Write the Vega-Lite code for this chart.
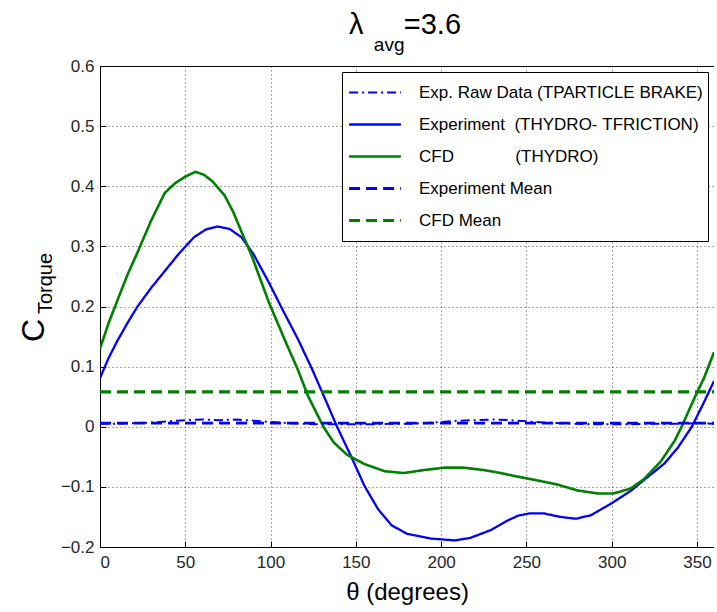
{
  "$schema": "https://vega.github.io/schema/vega-lite/v6.json",
  "width": 614,
  "height": 481,
  "padding": {"left": 17, "top": 11, "right": 0, "bottom": 3},
  "background": "white",
  "config": {
    "font": "Liberation Sans",
    "view": {"stroke": "black", "strokeWidth": 1},
    "axis": {
      "labelFont": "Liberation Sans",
      "titleFont": "Liberation Sans",
      "labelColor": "#262626",
      "titleColor": "black",
      "titleFontWeight": "normal",
      "domainColor": "black",
      "tickColor": "black",
      "gridColor": "#222222",
      "gridDash": [1, 3],
      "gridOpacity": 0.8
    },
    "legend": {"labelFont": "Liberation Sans"}
  },
  "title": {
    "text": "λ\u00a0\u00a0\u00a0\u00a0\u00a0=3.6",
    "subtitle": "avg\u00a0\u00a0\u00a0\u00a0\u00a0\u00a0\u200b",
    "anchor": "middle",
    "font": "Liberation Sans",
    "fontSize": 29,
    "fontWeight": "normal",
    "color": "black",
    "subtitleFont": "Liberation Sans",
    "subtitleFontSize": 19,
    "subtitleColor": "black",
    "subtitlePadding": -4,
    "dx": -2,
    "offset": 2
  },
  "datasets": {
    "curves": [
      {"series": "Exp. Raw Data (TPARTICLE BRAKE)", "theta": 0, "value": 0.005},
      {"series": "Exp. Raw Data (TPARTICLE BRAKE)", "theta": 10, "value": 0.005},
      {"series": "Exp. Raw Data (TPARTICLE BRAKE)", "theta": 20, "value": 0.006},
      {"series": "Exp. Raw Data (TPARTICLE BRAKE)", "theta": 30, "value": 0.007},
      {"series": "Exp. Raw Data (TPARTICLE BRAKE)", "theta": 40, "value": 0.009},
      {"series": "Exp. Raw Data (TPARTICLE BRAKE)", "theta": 50, "value": 0.011},
      {"series": "Exp. Raw Data (TPARTICLE BRAKE)", "theta": 60, "value": 0.012},
      {"series": "Exp. Raw Data (TPARTICLE BRAKE)", "theta": 70, "value": 0.011},
      {"series": "Exp. Raw Data (TPARTICLE BRAKE)", "theta": 80, "value": 0.012},
      {"series": "Exp. Raw Data (TPARTICLE BRAKE)", "theta": 90, "value": 0.01},
      {"series": "Exp. Raw Data (TPARTICLE BRAKE)", "theta": 100, "value": 0.008},
      {"series": "Exp. Raw Data (TPARTICLE BRAKE)", "theta": 110, "value": 0.006},
      {"series": "Exp. Raw Data (TPARTICLE BRAKE)", "theta": 120, "value": 0.005},
      {"series": "Exp. Raw Data (TPARTICLE BRAKE)", "theta": 130, "value": 0.004},
      {"series": "Exp. Raw Data (TPARTICLE BRAKE)", "theta": 140, "value": 0.004},
      {"series": "Exp. Raw Data (TPARTICLE BRAKE)", "theta": 150, "value": 0.004},
      {"series": "Exp. Raw Data (TPARTICLE BRAKE)", "theta": 160, "value": 0.004},
      {"series": "Exp. Raw Data (TPARTICLE BRAKE)", "theta": 170, "value": 0.005},
      {"series": "Exp. Raw Data (TPARTICLE BRAKE)", "theta": 180, "value": 0.005},
      {"series": "Exp. Raw Data (TPARTICLE BRAKE)", "theta": 190, "value": 0.006},
      {"series": "Exp. Raw Data (TPARTICLE BRAKE)", "theta": 200, "value": 0.008},
      {"series": "Exp. Raw Data (TPARTICLE BRAKE)", "theta": 210, "value": 0.01},
      {"series": "Exp. Raw Data (TPARTICLE BRAKE)", "theta": 220, "value": 0.011},
      {"series": "Exp. Raw Data (TPARTICLE BRAKE)", "theta": 230, "value": 0.012},
      {"series": "Exp. Raw Data (TPARTICLE BRAKE)", "theta": 240, "value": 0.011},
      {"series": "Exp. Raw Data (TPARTICLE BRAKE)", "theta": 250, "value": 0.009},
      {"series": "Exp. Raw Data (TPARTICLE BRAKE)", "theta": 260, "value": 0.007},
      {"series": "Exp. Raw Data (TPARTICLE BRAKE)", "theta": 270, "value": 0.006},
      {"series": "Exp. Raw Data (TPARTICLE BRAKE)", "theta": 280, "value": 0.005},
      {"series": "Exp. Raw Data (TPARTICLE BRAKE)", "theta": 290, "value": 0.004},
      {"series": "Exp. Raw Data (TPARTICLE BRAKE)", "theta": 300, "value": 0.004},
      {"series": "Exp. Raw Data (TPARTICLE BRAKE)", "theta": 310, "value": 0.004},
      {"series": "Exp. Raw Data (TPARTICLE BRAKE)", "theta": 320, "value": 0.005},
      {"series": "Exp. Raw Data (TPARTICLE BRAKE)", "theta": 330, "value": 0.005},
      {"series": "Exp. Raw Data (TPARTICLE BRAKE)", "theta": 340, "value": 0.005},
      {"series": "Exp. Raw Data (TPARTICLE BRAKE)", "theta": 350, "value": 0.006},
      {"series": "Exp. Raw Data (TPARTICLE BRAKE)", "theta": 360, "value": 0.005},

      {"series": "Experiment\u00a0\u00a0(THYDRO-\u00a0TFRICTION)", "theta": 0, "value": 0.081},
      {"series": "Experiment\u00a0\u00a0(THYDRO-\u00a0TFRICTION)", "theta": 5, "value": 0.114},
      {"series": "Experiment\u00a0\u00a0(THYDRO-\u00a0TFRICTION)", "theta": 10, "value": 0.142},
      {"series": "Experiment\u00a0\u00a0(THYDRO-\u00a0TFRICTION)", "theta": 16, "value": 0.172},
      {"series": "Experiment\u00a0\u00a0(THYDRO-\u00a0TFRICTION)", "theta": 22, "value": 0.2},
      {"series": "Experiment\u00a0\u00a0(THYDRO-\u00a0TFRICTION)", "theta": 30, "value": 0.231},
      {"series": "Experiment\u00a0\u00a0(THYDRO-\u00a0TFRICTION)", "theta": 38, "value": 0.259},
      {"series": "Experiment\u00a0\u00a0(THYDRO-\u00a0TFRICTION)", "theta": 46, "value": 0.287},
      {"series": "Experiment\u00a0\u00a0(THYDRO-\u00a0TFRICTION)", "theta": 55, "value": 0.315},
      {"series": "Experiment\u00a0\u00a0(THYDRO-\u00a0TFRICTION)", "theta": 62, "value": 0.328},
      {"series": "Experiment\u00a0\u00a0(THYDRO-\u00a0TFRICTION)", "theta": 69, "value": 0.333},
      {"series": "Experiment\u00a0\u00a0(THYDRO-\u00a0TFRICTION)", "theta": 76, "value": 0.329},
      {"series": "Experiment\u00a0\u00a0(THYDRO-\u00a0TFRICTION)", "theta": 83, "value": 0.315},
      {"series": "Experiment\u00a0\u00a0(THYDRO-\u00a0TFRICTION)", "theta": 90, "value": 0.287},
      {"series": "Experiment\u00a0\u00a0(THYDRO-\u00a0TFRICTION)", "theta": 99, "value": 0.24},
      {"series": "Experiment\u00a0\u00a0(THYDRO-\u00a0TFRICTION)", "theta": 107, "value": 0.195},
      {"series": "Experiment\u00a0\u00a0(THYDRO-\u00a0TFRICTION)", "theta": 116, "value": 0.146},
      {"series": "Experiment\u00a0\u00a0(THYDRO-\u00a0TFRICTION)", "theta": 124, "value": 0.098},
      {"series": "Experiment\u00a0\u00a0(THYDRO-\u00a0TFRICTION)", "theta": 132, "value": 0.046},
      {"series": "Experiment\u00a0\u00a0(THYDRO-\u00a0TFRICTION)", "theta": 139, "value": 0.0},
      {"series": "Experiment\u00a0\u00a0(THYDRO-\u00a0TFRICTION)", "theta": 147, "value": -0.048},
      {"series": "Experiment\u00a0\u00a0(THYDRO-\u00a0TFRICTION)", "theta": 155, "value": -0.098},
      {"series": "Experiment\u00a0\u00a0(THYDRO-\u00a0TFRICTION)", "theta": 163, "value": -0.137},
      {"series": "Experiment\u00a0\u00a0(THYDRO-\u00a0TFRICTION)", "theta": 171, "value": -0.164},
      {"series": "Experiment\u00a0\u00a0(THYDRO-\u00a0TFRICTION)", "theta": 180, "value": -0.178},
      {"series": "Experiment\u00a0\u00a0(THYDRO-\u00a0TFRICTION)", "theta": 194, "value": -0.186},
      {"series": "Experiment\u00a0\u00a0(THYDRO-\u00a0TFRICTION)", "theta": 208, "value": -0.189},
      {"series": "Experiment\u00a0\u00a0(THYDRO-\u00a0TFRICTION)", "theta": 217, "value": -0.185},
      {"series": "Experiment\u00a0\u00a0(THYDRO-\u00a0TFRICTION)", "theta": 229, "value": -0.172},
      {"series": "Experiment\u00a0\u00a0(THYDRO-\u00a0TFRICTION)", "theta": 239, "value": -0.156},
      {"series": "Experiment\u00a0\u00a0(THYDRO-\u00a0TFRICTION)", "theta": 245, "value": -0.148},
      {"series": "Experiment\u00a0\u00a0(THYDRO-\u00a0TFRICTION)", "theta": 252, "value": -0.144},
      {"series": "Experiment\u00a0\u00a0(THYDRO-\u00a0TFRICTION)", "theta": 260, "value": -0.144},
      {"series": "Experiment\u00a0\u00a0(THYDRO-\u00a0TFRICTION)", "theta": 270, "value": -0.15},
      {"series": "Experiment\u00a0\u00a0(THYDRO-\u00a0TFRICTION)", "theta": 279, "value": -0.153},
      {"series": "Experiment\u00a0\u00a0(THYDRO-\u00a0TFRICTION)", "theta": 288, "value": -0.147},
      {"series": "Experiment\u00a0\u00a0(THYDRO-\u00a0TFRICTION)", "theta": 299, "value": -0.129},
      {"series": "Experiment\u00a0\u00a0(THYDRO-\u00a0TFRICTION)", "theta": 311, "value": -0.107},
      {"series": "Experiment\u00a0\u00a0(THYDRO-\u00a0TFRICTION)", "theta": 321, "value": -0.084},
      {"series": "Experiment\u00a0\u00a0(THYDRO-\u00a0TFRICTION)", "theta": 331, "value": -0.061},
      {"series": "Experiment\u00a0\u00a0(THYDRO-\u00a0TFRICTION)", "theta": 339, "value": -0.034},
      {"series": "Experiment\u00a0\u00a0(THYDRO-\u00a0TFRICTION)", "theta": 347, "value": 0.0},
      {"series": "Experiment\u00a0\u00a0(THYDRO-\u00a0TFRICTION)", "theta": 354, "value": 0.04},
      {"series": "Experiment\u00a0\u00a0(THYDRO-\u00a0TFRICTION)", "theta": 360, "value": 0.076},

      {"series": "CFD\u00a0\u00a0\u00a0\u00a0\u00a0\u00a0\u00a0\u00a0\u00a0\u00a0\u00a0\u00a0\u00a0(THYDRO)", "theta": 0, "value": 0.13},
      {"series": "CFD\u00a0\u00a0\u00a0\u00a0\u00a0\u00a0\u00a0\u00a0\u00a0\u00a0\u00a0\u00a0\u00a0(THYDRO)", "theta": 5, "value": 0.172},
      {"series": "CFD\u00a0\u00a0\u00a0\u00a0\u00a0\u00a0\u00a0\u00a0\u00a0\u00a0\u00a0\u00a0\u00a0(THYDRO)", "theta": 11, "value": 0.216},
      {"series": "CFD\u00a0\u00a0\u00a0\u00a0\u00a0\u00a0\u00a0\u00a0\u00a0\u00a0\u00a0\u00a0\u00a0(THYDRO)", "theta": 16, "value": 0.252},
      {"series": "CFD\u00a0\u00a0\u00a0\u00a0\u00a0\u00a0\u00a0\u00a0\u00a0\u00a0\u00a0\u00a0\u00a0(THYDRO)", "theta": 22, "value": 0.29},
      {"series": "CFD\u00a0\u00a0\u00a0\u00a0\u00a0\u00a0\u00a0\u00a0\u00a0\u00a0\u00a0\u00a0\u00a0(THYDRO)", "theta": 30, "value": 0.343},
      {"series": "CFD\u00a0\u00a0\u00a0\u00a0\u00a0\u00a0\u00a0\u00a0\u00a0\u00a0\u00a0\u00a0\u00a0(THYDRO)", "theta": 38, "value": 0.389},
      {"series": "CFD\u00a0\u00a0\u00a0\u00a0\u00a0\u00a0\u00a0\u00a0\u00a0\u00a0\u00a0\u00a0\u00a0(THYDRO)", "theta": 44, "value": 0.405},
      {"series": "CFD\u00a0\u00a0\u00a0\u00a0\u00a0\u00a0\u00a0\u00a0\u00a0\u00a0\u00a0\u00a0\u00a0(THYDRO)", "theta": 50, "value": 0.416},
      {"series": "CFD\u00a0\u00a0\u00a0\u00a0\u00a0\u00a0\u00a0\u00a0\u00a0\u00a0\u00a0\u00a0\u00a0(THYDRO)", "theta": 56, "value": 0.424},
      {"series": "CFD\u00a0\u00a0\u00a0\u00a0\u00a0\u00a0\u00a0\u00a0\u00a0\u00a0\u00a0\u00a0\u00a0(THYDRO)", "theta": 61, "value": 0.419},
      {"series": "CFD\u00a0\u00a0\u00a0\u00a0\u00a0\u00a0\u00a0\u00a0\u00a0\u00a0\u00a0\u00a0\u00a0(THYDRO)", "theta": 66, "value": 0.408},
      {"series": "CFD\u00a0\u00a0\u00a0\u00a0\u00a0\u00a0\u00a0\u00a0\u00a0\u00a0\u00a0\u00a0\u00a0(THYDRO)", "theta": 73, "value": 0.385},
      {"series": "CFD\u00a0\u00a0\u00a0\u00a0\u00a0\u00a0\u00a0\u00a0\u00a0\u00a0\u00a0\u00a0\u00a0(THYDRO)", "theta": 78, "value": 0.358},
      {"series": "CFD\u00a0\u00a0\u00a0\u00a0\u00a0\u00a0\u00a0\u00a0\u00a0\u00a0\u00a0\u00a0\u00a0(THYDRO)", "theta": 83, "value": 0.324},
      {"series": "CFD\u00a0\u00a0\u00a0\u00a0\u00a0\u00a0\u00a0\u00a0\u00a0\u00a0\u00a0\u00a0\u00a0(THYDRO)", "theta": 89, "value": 0.284},
      {"series": "CFD\u00a0\u00a0\u00a0\u00a0\u00a0\u00a0\u00a0\u00a0\u00a0\u00a0\u00a0\u00a0\u00a0(THYDRO)", "theta": 99, "value": 0.207},
      {"series": "CFD\u00a0\u00a0\u00a0\u00a0\u00a0\u00a0\u00a0\u00a0\u00a0\u00a0\u00a0\u00a0\u00a0(THYDRO)", "theta": 109, "value": 0.14},
      {"series": "CFD\u00a0\u00a0\u00a0\u00a0\u00a0\u00a0\u00a0\u00a0\u00a0\u00a0\u00a0\u00a0\u00a0(THYDRO)", "theta": 116, "value": 0.095},
      {"series": "CFD\u00a0\u00a0\u00a0\u00a0\u00a0\u00a0\u00a0\u00a0\u00a0\u00a0\u00a0\u00a0\u00a0(THYDRO)", "theta": 122, "value": 0.051},
      {"series": "CFD\u00a0\u00a0\u00a0\u00a0\u00a0\u00a0\u00a0\u00a0\u00a0\u00a0\u00a0\u00a0\u00a0(THYDRO)", "theta": 131, "value": 0.0},
      {"series": "CFD\u00a0\u00a0\u00a0\u00a0\u00a0\u00a0\u00a0\u00a0\u00a0\u00a0\u00a0\u00a0\u00a0(THYDRO)", "theta": 137, "value": -0.026},
      {"series": "CFD\u00a0\u00a0\u00a0\u00a0\u00a0\u00a0\u00a0\u00a0\u00a0\u00a0\u00a0\u00a0\u00a0(THYDRO)", "theta": 145, "value": -0.047},
      {"series": "CFD\u00a0\u00a0\u00a0\u00a0\u00a0\u00a0\u00a0\u00a0\u00a0\u00a0\u00a0\u00a0\u00a0(THYDRO)", "theta": 155, "value": -0.062},
      {"series": "CFD\u00a0\u00a0\u00a0\u00a0\u00a0\u00a0\u00a0\u00a0\u00a0\u00a0\u00a0\u00a0\u00a0(THYDRO)", "theta": 167, "value": -0.074},
      {"series": "CFD\u00a0\u00a0\u00a0\u00a0\u00a0\u00a0\u00a0\u00a0\u00a0\u00a0\u00a0\u00a0\u00a0(THYDRO)", "theta": 178, "value": -0.077},
      {"series": "CFD\u00a0\u00a0\u00a0\u00a0\u00a0\u00a0\u00a0\u00a0\u00a0\u00a0\u00a0\u00a0\u00a0(THYDRO)", "theta": 190, "value": -0.072},
      {"series": "CFD\u00a0\u00a0\u00a0\u00a0\u00a0\u00a0\u00a0\u00a0\u00a0\u00a0\u00a0\u00a0\u00a0(THYDRO)", "theta": 202, "value": -0.068},
      {"series": "CFD\u00a0\u00a0\u00a0\u00a0\u00a0\u00a0\u00a0\u00a0\u00a0\u00a0\u00a0\u00a0\u00a0(THYDRO)", "theta": 213, "value": -0.068},
      {"series": "CFD\u00a0\u00a0\u00a0\u00a0\u00a0\u00a0\u00a0\u00a0\u00a0\u00a0\u00a0\u00a0\u00a0(THYDRO)", "theta": 225, "value": -0.072},
      {"series": "CFD\u00a0\u00a0\u00a0\u00a0\u00a0\u00a0\u00a0\u00a0\u00a0\u00a0\u00a0\u00a0\u00a0(THYDRO)", "theta": 233, "value": -0.076},
      {"series": "CFD\u00a0\u00a0\u00a0\u00a0\u00a0\u00a0\u00a0\u00a0\u00a0\u00a0\u00a0\u00a0\u00a0(THYDRO)", "theta": 245, "value": -0.083},
      {"series": "CFD\u00a0\u00a0\u00a0\u00a0\u00a0\u00a0\u00a0\u00a0\u00a0\u00a0\u00a0\u00a0\u00a0(THYDRO)", "theta": 256, "value": -0.089},
      {"series": "CFD\u00a0\u00a0\u00a0\u00a0\u00a0\u00a0\u00a0\u00a0\u00a0\u00a0\u00a0\u00a0\u00a0(THYDRO)", "theta": 268, "value": -0.096},
      {"series": "CFD\u00a0\u00a0\u00a0\u00a0\u00a0\u00a0\u00a0\u00a0\u00a0\u00a0\u00a0\u00a0\u00a0(THYDRO)", "theta": 280, "value": -0.106},
      {"series": "CFD\u00a0\u00a0\u00a0\u00a0\u00a0\u00a0\u00a0\u00a0\u00a0\u00a0\u00a0\u00a0\u00a0(THYDRO)", "theta": 292, "value": -0.111},
      {"series": "CFD\u00a0\u00a0\u00a0\u00a0\u00a0\u00a0\u00a0\u00a0\u00a0\u00a0\u00a0\u00a0\u00a0(THYDRO)", "theta": 301, "value": -0.111},
      {"series": "CFD\u00a0\u00a0\u00a0\u00a0\u00a0\u00a0\u00a0\u00a0\u00a0\u00a0\u00a0\u00a0\u00a0(THYDRO)", "theta": 311, "value": -0.103},
      {"series": "CFD\u00a0\u00a0\u00a0\u00a0\u00a0\u00a0\u00a0\u00a0\u00a0\u00a0\u00a0\u00a0\u00a0(THYDRO)", "theta": 319, "value": -0.087},
      {"series": "CFD\u00a0\u00a0\u00a0\u00a0\u00a0\u00a0\u00a0\u00a0\u00a0\u00a0\u00a0\u00a0\u00a0(THYDRO)", "theta": 329, "value": -0.057},
      {"series": "CFD\u00a0\u00a0\u00a0\u00a0\u00a0\u00a0\u00a0\u00a0\u00a0\u00a0\u00a0\u00a0\u00a0(THYDRO)", "theta": 337, "value": -0.023},
      {"series": "CFD\u00a0\u00a0\u00a0\u00a0\u00a0\u00a0\u00a0\u00a0\u00a0\u00a0\u00a0\u00a0\u00a0(THYDRO)", "theta": 341, "value": 0.0},
      {"series": "CFD\u00a0\u00a0\u00a0\u00a0\u00a0\u00a0\u00a0\u00a0\u00a0\u00a0\u00a0\u00a0\u00a0(THYDRO)", "theta": 350, "value": 0.057},
      {"series": "CFD\u00a0\u00a0\u00a0\u00a0\u00a0\u00a0\u00a0\u00a0\u00a0\u00a0\u00a0\u00a0\u00a0(THYDRO)", "theta": 354, "value": 0.08},
      {"series": "CFD\u00a0\u00a0\u00a0\u00a0\u00a0\u00a0\u00a0\u00a0\u00a0\u00a0\u00a0\u00a0\u00a0(THYDRO)", "theta": 360, "value": 0.124},

      {"series": "Experiment Mean", "theta": 0, "value": 0.006},
      {"series": "Experiment Mean", "theta": 360, "value": 0.006},
      {"series": "CFD Mean", "theta": 0, "value": 0.058},
      {"series": "CFD Mean", "theta": 360, "value": 0.058}
    ]
  },
  "layer": [
    {
      "mark": {"type": "rule", "color": "black", "strokeWidth": 2.8},
      "encoding": {
        "y": {
          "datum": 0,
          "type": "quantitative",
          "scale": {"domain": [-0.2, 0.6], "nice": false, "zero": false},
          "axis": {
            "orient": "left",
            "title": "Torque",
            "titleFontSize": 20,
            "titleX": -49,
            "titleY": 217,
            "titleAngle": -90,
            "titleAlign": "center",
            "titleBaseline": "alphabetic",
            "labels": false,
            "ticks": false,
            "domain": false,
            "grid": false
          }
        }
      }
    },
    {
      "data": {"name": "curves"},
      "mark": {"type": "line", "clip": true},
      "encoding": {
        "x": {
          "field": "theta",
          "type": "quantitative",
          "scale": {"domain": [0, 360], "nice": false, "zero": false},
          "axis": {
            "values": [0, 50, 100, 150, 200, 250, 300, 350],
            "title": "θ (degrees)",
            "titleFontSize": 24,
            "labelFontSize": 17,
            "tickSize": -6,
            "labelPadding": 13,
            "titlePadding": 10,
            "grid": true
          }
        },
        "y": {
          "field": "value",
          "type": "quantitative",
          "scale": {"domain": [-0.2, 0.6], "nice": false, "zero": false},
          "axis": {
            "orient": "left",
            "values": [-0.2, -0.1, 0, 0.1, 0.2, 0.3, 0.4, 0.5, 0.6],
            "labelExpr": "datum.value == 0 ? '0' : format(datum.value, '.1f')",
            "labelFontSize": 17,
            "tickSize": -6,
            "labelPadding": 12,
            "grid": true,
            "title": "C",
            "titleFontSize": 32,
            "titleX": -57,
            "titleY": 264,
            "titleAngle": -90,
            "titleAlign": "center",
            "titleBaseline": "alphabetic"
          }
        },
        "color": {
          "field": "series",
          "type": "nominal",
          "scale": {
            "domain": ["Exp. Raw Data (TPARTICLE BRAKE)", "Experiment\u00a0\u00a0(THYDRO-\u00a0TFRICTION)", "CFD\u00a0\u00a0\u00a0\u00a0\u00a0\u00a0\u00a0\u00a0\u00a0\u00a0\u00a0\u00a0\u00a0(THYDRO)", "Experiment Mean", "CFD Mean"],
            "range": ["#0000ff", "#0000ff", "#008000", "#0000ff", "#008000"]
          },
          "legend": {
            "title": null,
            "orient": "top-right",
            "offset": 6,
            "fillColor": "white",
            "strokeColor": "black",
            "padding": 5,
            "labelFontSize": 17,
            "labelColor": "black",
            "labelLimit": 400,
            "symbolType": "M-1.85,0H1.85",
            "symbolSize": 784,
            "symbolOffset": 12,
            "labelOffset": 28,
            "clipHeight": 31,
            "rowPadding": 1
          }
        },
        "strokeDash": {
          "field": "series",
          "type": "nominal",
          "scale": {
            "domain": ["Exp. Raw Data (TPARTICLE BRAKE)", "Experiment\u00a0\u00a0(THYDRO-\u00a0TFRICTION)", "CFD\u00a0\u00a0\u00a0\u00a0\u00a0\u00a0\u00a0\u00a0\u00a0\u00a0\u00a0\u00a0\u00a0(THYDRO)", "Experiment Mean", "CFD Mean"],
            "range": [[9, 4, 2, 4], [1, 0], [1, 0], [11, 6], [11, 6]]
          },
          "legend": null
        },
        "strokeWidth": {
          "field": "series",
          "type": "nominal",
          "scale": {
            "domain": ["Exp. Raw Data (TPARTICLE BRAKE)", "Experiment\u00a0\u00a0(THYDRO-\u00a0TFRICTION)", "CFD\u00a0\u00a0\u00a0\u00a0\u00a0\u00a0\u00a0\u00a0\u00a0\u00a0\u00a0\u00a0\u00a0(THYDRO)", "Experiment Mean", "CFD Mean"],
            "range": [2, 3.2, 3.2, 2.5, 2.5]
          },
          "legend": null
        }
      }
    }
  ],
  "resolve": {"axis": {"y": "independent"}}
}
